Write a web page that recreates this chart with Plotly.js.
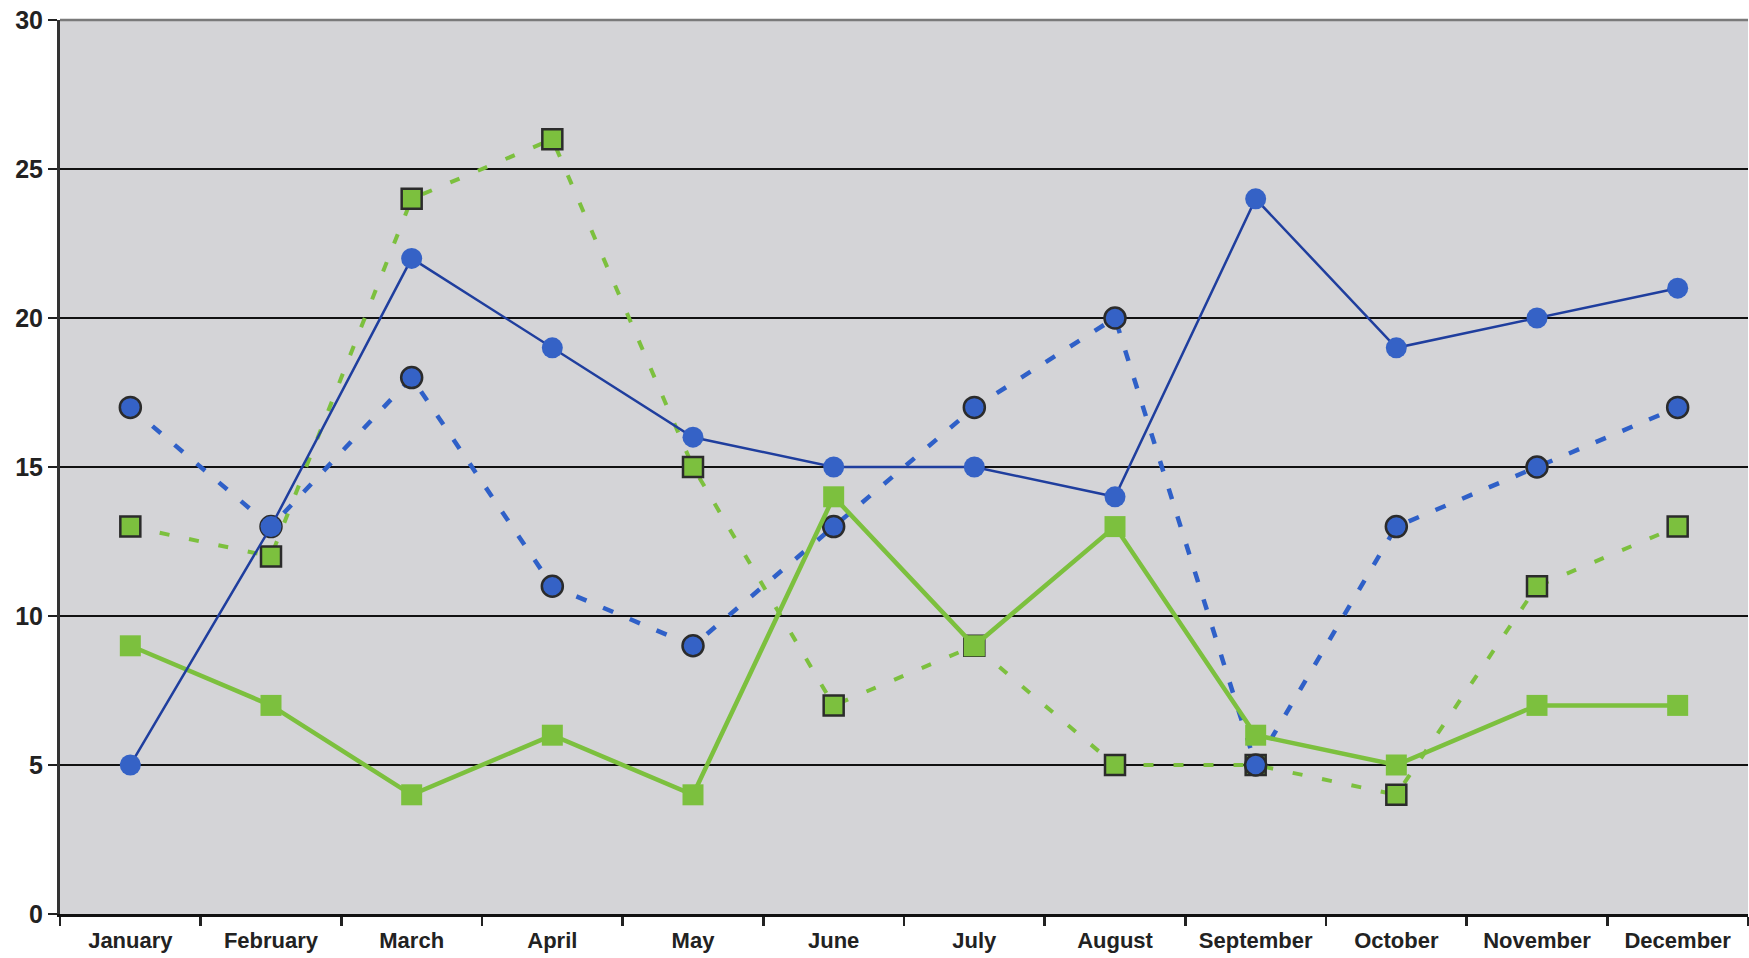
<!DOCTYPE html>
<html>
<head>
<meta charset="utf-8">
<script src="https://cdn.plot.ly/plotly-3.0.1.min.js"></script>
<style>
  html, body { margin: 0; padding: 0; background: #ffffff; }
  #chart { width: 1749px; height: 958px; }
</style>
</head>
<body>
<div id="chart"></div>
<script>
const months = ["January","February","March","April","May","June","July","August","September","October","November","December"];
const blueSolid   = [5, 13, 22, 19, 16, 15, 15, 14, 24, 19, 20, 21];
const blueDotted  = [17, 13, 18, 11, 9, 13, 17, 20, 5, 13, 15, 17];
const greenSolid  = [9, 7, 4, 6, 4, 14, 9, 13, 6, 5, 7, 7];
const greenDotted = [13, 12, 24, 26, 15, 7, 9, 5, 5, 4, 11, 13];

const BLUE = '#3562c6';
const BLUE_LINE = '#1f3e9e';
const BLUE_DASH = '#2f60c8';
const GREEN = '#7cc03e';
const OUTLINE = '#2b2b2b';

const traces = [
  {
    x: months, y: greenDotted, type: 'scatter', mode: 'lines+markers',
    line: {color: GREEN, width: 4, dash: '10px,20px'},
    marker: {symbol: 'square', size: 20, color: GREEN, line: {color: OUTLINE, width: 2.5}},
    hoverinfo: 'skip'
  },
  {
    x: months, y: blueDotted, type: 'scatter', mode: 'lines+markers',
    line: {color: BLUE_DASH, width: 4.5, dash: '11px,18px'},
    marker: {symbol: 'circle', size: 21, color: BLUE, line: {color: OUTLINE, width: 2.5}},
    hoverinfo: 'skip'
  },
  {
    x: months, y: greenSolid, type: 'scatter', mode: 'lines+markers',
    line: {color: GREEN, width: 4.5},
    marker: {symbol: 'square', size: 21, color: GREEN, line: {width: 0}},
    hoverinfo: 'skip'
  },
  {
    x: months, y: blueSolid, type: 'scatter', mode: 'lines+markers',
    line: {color: BLUE_LINE, width: 2.5},
    marker: {symbol: 'circle', size: 21, color: BLUE, line: {width: 0}},
    hoverinfo: 'skip'
  }
];

const layout = {
  width: 1749, height: 958,
  margin: {l: 60, r: 1, t: 20, b: 44, pad: 0},
  paper_bgcolor: '#ffffff',
  plot_bgcolor: '#d4d4d7',
  showlegend: false,
  font: {family: 'Liberation Sans, Arial, sans-serif', color: '#222222'},
  xaxis: {
    type: 'category',
    categoryorder: 'array', categoryarray: months,
    range: [-0.5, 11.5],
    tickson: 'boundaries',
    ticks: 'outside', ticklen: 9, tickwidth: 2.5, tickcolor: '#222222',
    ticklabelstandoff: 5,
    showgrid: false, zeroline: false,
    showline: true, linecolor: '#111111', linewidth: 3,
    tickfont: {family: 'Liberation Sans, Arial, sans-serif', size: 22, color: '#222222', weight: 'bold'}
  },
  yaxis: {
    range: [0, 30], dtick: 5, tick0: 0,
    ticks: 'outside', ticklen: 9, tickwidth: 2.5, tickcolor: '#222222',
    showgrid: true, gridcolor: '#111111', gridwidth: 2.2,
    zeroline: false,
    showline: true, linecolor: '#333333', linewidth: 3,
    tickfont: {family: 'Liberation Sans, Arial, sans-serif', size: 25, color: '#222222', weight: 'bold'}
  },
  shapes: [
    {type: 'line', xref: 'paper', yref: 'paper', x0: 0, x1: 1, y0: 1, y1: 1,
     line: {color: '#7a7a7a', width: 2.5}, layer: 'above'}
  ]
};

Plotly.newPlot('chart', traces, layout, {displayModeBar: false, staticPlot: true});
</script>
</body>
</html>
